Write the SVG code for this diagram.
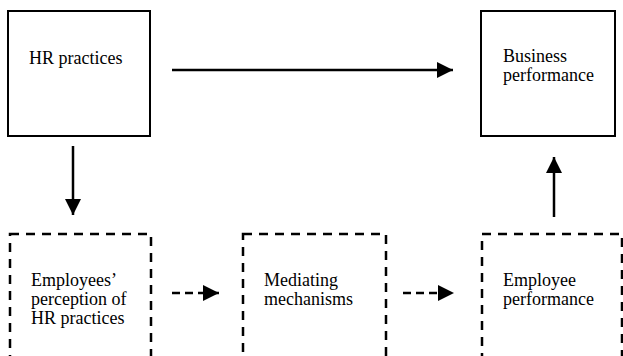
<svg xmlns="http://www.w3.org/2000/svg" width="623" height="356" viewBox="0 0 623 356">
<style>
.solid{fill:#fff;stroke:#000;stroke-width:2}
.dash{fill:#fff;stroke:#000;stroke-width:2.5;stroke-dasharray:9 7}
text{font-family:'Liberation Serif','DejaVu Serif','Times New Roman',serif;font-size:18px;fill:#000}
.c{stroke:#000;stroke-width:2.5;fill:none}
.cd{stroke:#000;stroke-width:2.5;fill:none;stroke-dasharray:8 5}
</style>
<defs>
<marker id="ah" viewBox="0 0 10 10" refX="10" refY="5" markerUnits="userSpaceOnUse" markerWidth="16" markerHeight="16" orient="auto">
<path d="M0,0 L10,5 L0,10 Z" fill="#000"/>
</marker>
</defs>
<rect width="623" height="356" fill="#fff"/>
<g id="hr">
<rect class="solid" x="8" y="11" width="142" height="125"/>
<text x="29" y="64">HR practices</text>
</g>
<g id="business">
<rect class="solid" x="481" y="11" width="134" height="125"/>
<text x="503" y="62">Business</text>
<text x="503" y="81">performance</text>
</g>
<g id="perception">
<rect class="dash" x="10" y="234" width="141" height="140"/>
<text x="31" y="286">Employees’</text>
<text x="31" y="305">perception of</text>
<text x="31" y="324">HR practices</text>
</g>
<g id="mediating">
<rect class="dash" x="243" y="234" width="143" height="140"/>
<text x="264" y="286">Mediating</text>
<text x="264" y="305">mechanisms</text>
</g>
<g id="employee">
<rect class="dash" x="482" y="234" width="140" height="140"/>
<text x="503" y="286">Employee</text>
<text x="503" y="305">performance</text>
</g>
<g id="connectors">
<line class="c" x1="172" y1="70" x2="453" y2="70" marker-end="url(#ah)"/>
<line class="c" x1="73" y1="146" x2="73" y2="215" marker-end="url(#ah)"/>
<line class="c" x1="554" y1="217" x2="554" y2="157" marker-end="url(#ah)"/>
<line class="cd" x1="172" y1="293" x2="219" y2="293" marker-end="url(#ah)"/>
<line class="cd" x1="403" y1="293" x2="454" y2="293" marker-end="url(#ah)"/>
</g>
</svg>
